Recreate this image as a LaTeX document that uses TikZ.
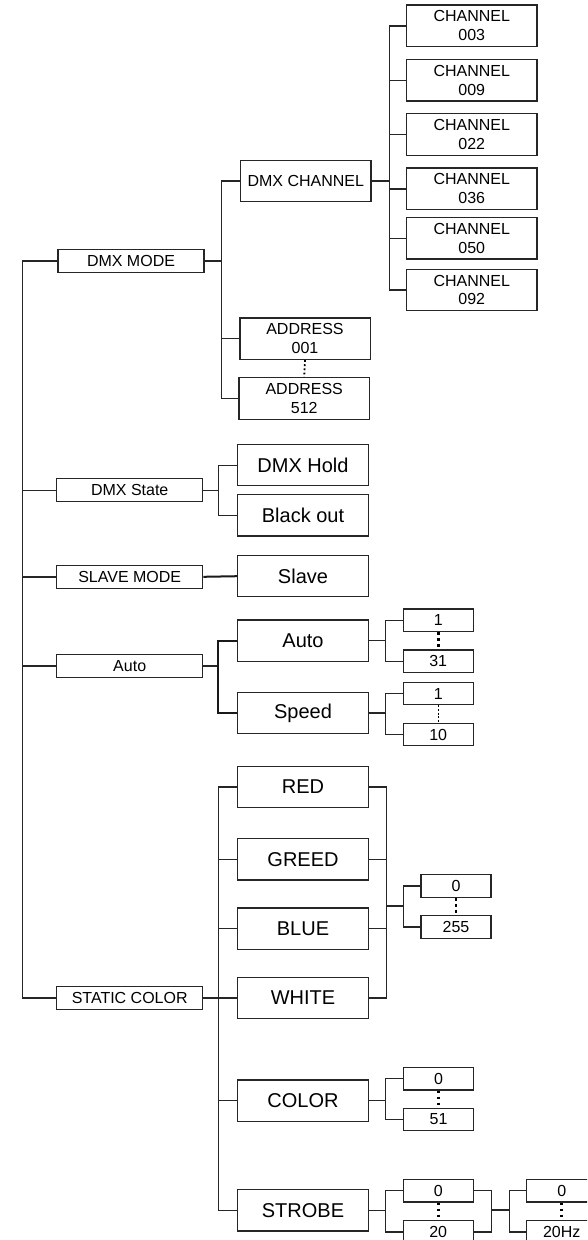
\documentclass[tikz,border=0pt]{standalone}
\usepackage{fontspec}
\setmainfont{Liberation Sans}
\begin{document}
\begin{tikzpicture}[x=1pt,y=-1pt,
  lc/.style={line width=1.4pt, draw=black!85},
  thk/.style={line width=2pt, draw=black!90},
  box/.style={draw=black!85, line width=1.3pt, fill=white, inner sep=0pt, align=center},
  sm/.style={font=\fontsize{16}{18.7}\selectfont},
  lg/.style={font=\fontsize{20}{24}\selectfont},
  lone/.style={box, sm, minimum width=146pt, minimum height=23pt},
  ltwo/.style={box, sm, minimum width=130.3pt, minimum height=41.4pt},
  lbig/.style={box, lg, minimum width=130.7pt, minimum height=41.2pt},
  chbox/.style={box, sm, minimum width=130.3pt, minimum height=41.4pt},
  numbox/.style={box, sm, minimum width=70pt, minimum height=22.5pt},
  bigdots/.style={line width=2.6pt, draw=black, dash pattern=on 2.6pt off 3.4pt},
  smalldots/.style={line width=1.8pt, draw=black, dash pattern=on 1.8pt off 2.4pt},
  thindash/.style={line width=0.8pt, draw=black, dash pattern=on 2pt off 1.6pt}
]
\useasboundingbox (0,0) rectangle (587,1240);
\clip (0,0) rectangle (587,1240);
\fill[white] (0,0) rectangle (587,1240);

% bus coordinates
\coordinate (mb) at (22.5,0);
\coordinate (b1) at (221.6,0);
\coordinate (cb) at (389.4,0);
\coordinate (sb) at (218.3,0);
\coordinate (ab) at (385.6,0);
\coordinate (rb) at (386.7,0);
\coordinate (rs) at (403.2,0);
\coordinate (sr) at (491.2,0);
\coordinate (hb) at (509.2,0);
\coordinate (rj) at (386.7,906);
\coordinate (sj) at (491.2,1210);

% level 1
\node[lone] (dmxmode) at (131,260.8) {DMX MODE};
\node[lone] (dmxstate) at (129.7,490.2) {DMX State};
\node[lone] (slavemode) at (129.7,576.8) {SLAVE MODE};
\node[lone] (autoone) at (129.7,665.8) {Auto};
\node[lone] (static) at (129.7,998) {STATIC COLOR};

% level 2
\node[ltwo] (dmxch) at (305.8,181) {DMX CHANNEL};
\node[ltwo] (addra) at (305,338.7) {ADDRESS\\001};
\node[ltwo] (addrb) at (304.2,398.5) {ADDRESS\\512};
\node[lbig] (dmxhold) at (303,465.2) {DMX Hold};
\node[lbig] (blackout) at (303,515.3) {Black out};
\node[lbig] (slave) at (303,576.2) {Slave};
\node[lbig] (autotwo) at (303,640.7) {Auto};
\node[lbig] (speed) at (303,713) {Speed};
\node[lbig] (red) at (303,786.8) {RED};
\node[lbig] (greed) at (303,859.3) {GREED};
\node[lbig] (blue) at (303,928.7) {BLUE};
\node[lbig] (white) at (303,998) {WHITE};
\node[lbig] (color) at (303,1100.7) {COLOR};
\node[lbig] (strobe) at (303,1210.3) {STROBE};

% channels
\node[chbox] (cha) at (471.8,25.8) {CHANNEL\\003};
\node[chbox] (chb) at (471.8,80.3) {CHANNEL\\009};
\node[chbox] (chc) at (471.8,134.5) {CHANNEL\\022};
\node[chbox] (chd) at (471.8,188.8) {CHANNEL\\036};
\node[chbox] (che) at (471.8,238.3) {CHANNEL\\050};
\node[chbox] (chf) at (471.8,290) {CHANNEL\\092};

% number boxes
\node[numbox] (aa) at (438.2,620.3) {1};
\node[numbox] (ab31) at (438.2,661.2) {31};
\node[numbox] (sa) at (438.2,693.5) {1};
\node[numbox] (sb10) at (438.2,734.5) {10};
\node[numbox] (ca) at (456,886) {0};
\node[numbox] (cb255) at (456,927) {255};
\node[numbox] (ka) at (438.6,1078.7) {0};
\node[numbox] (kb) at (438.6,1119.5) {51};
\node[numbox] (ta) at (438.2,1190.7) {0};
\node[numbox] (tb) at (438.2,1232) {20};
\node[numbox] (ha) at (561.7,1190.7) {0};
\node[numbox] (hb20) at (561.7,1232) {20Hz};

% main bus
\draw[lc] (dmxmode.west) -- (dmxmode.west -| mb) -- (static.west -| mb) -- (static.west);
\draw[lc] (dmxstate.west) -- (dmxstate.west -| mb);
\draw[lc] (slavemode.west) -- (slavemode.west -| mb);
\draw[lc] (autoone.west) -- (autoone.west -| mb);

% DMX MODE
\draw[lc] (dmxmode.east) -- (dmxmode.east -| b1);
\draw[lc] (dmxch.west) -- (dmxch.west -| b1) -- (addrb.west -| b1) -- (addrb.west);
\draw[lc] (addra.west) -- (addra.west -| b1);
\draw[smalldots] (addra.south) -- (addrb.north);

% channels
\draw[lc] (dmxch.east) -- (dmxch.east -| cb);
\draw[lc] (cha.west) -- (cha.west -| cb) -- (chf.west -| cb) -- (chf.west);
\draw[lc] (chb.west) -- (chb.west -| cb);
\draw[lc] (chc.west) -- (chc.west -| cb);
\draw[lc] (chd.west) -- (chd.west -| cb);
\draw[lc] (che.west) -- (che.west -| cb);

% DMX State
\draw[lc] (dmxstate.east) -- (dmxstate.east -| sb);
\draw[lc] (dmxhold.west) -- (dmxhold.west -| sb) -- (blackout.west -| sb) -- (blackout.west);

% Slave
\draw[thk] (slavemode.east) -- (slave.west);

% Auto
\draw[lc] (autoone.east) -- (autoone.east -| sb);
\draw[thk] (autotwo.west) -- (autotwo.west -| sb) -- (speed.west -| sb) -- (speed.west);
\draw[lc] (autotwo.east) -- (autotwo.east -| ab);
\draw[lc] (aa.west) -- (aa.west -| ab) -- (ab31.west -| ab) -- (ab31.west);
\draw[bigdots] (aa.south) -- (ab31.north);
\draw[lc] (speed.east) -- (speed.east -| ab);
\draw[lc] (sa.west) -- (sa.west -| ab) -- (sb10.west -| ab) -- (sb10.west);
\draw[thindash] (sa.south) -- (sb10.north);

% Static color
\draw[lc] (static.east) -- (white.west);
\draw[lc] (red.west) -- (red.west -| sb) -- (strobe.west -| sb) -- (strobe.west);
\draw[lc] (greed.west) -- (greed.west -| sb);
\draw[lc] (blue.west) -- (blue.west -| sb);
\draw[lc] (color.west) -- (color.west -| sb);
\draw[lc] (red.east) -- (red.east -| rb) -- (white.east -| rb) -- (white.east);
\draw[lc] (greed.east) -- (greed.east -| rb);
\draw[lc] (blue.east) -- (blue.east -| rb);
\draw[lc] (rj) -- (rj -| rs);
\draw[lc] (ca.west) -- (ca.west -| rs) -- (cb255.west -| rs) -- (cb255.west);
\draw[bigdots] (ca.south) -- (cb255.north);

% Color
\draw[lc] (color.east) -- (color.east -| ab);
\draw[lc] (ka.west) -- (ka.west -| ab) -- (kb.west -| ab) -- (kb.west);
\draw[bigdots] (ka.south) -- (kb.north);

% Strobe
\draw[lc] (strobe.east) -- (strobe.east -| ab);
\draw[lc] (ta.west) -- (ta.west -| ab) -- (tb.west -| ab) -- (tb.west);
\draw[bigdots] (ta.south) -- (tb.north);
\draw[lc] (ta.east) -- (ta.east -| sr) -- (tb.east -| sr) -- (tb.east);
\draw[lc] (sj) -- (sj -| hb);
\draw[lc] (ha.west) -- (ha.west -| hb) -- (hb20.west -| hb) -- (hb20.west);
\draw[bigdots] (ha.south) -- (hb20.north);
\end{tikzpicture}
\end{document}
